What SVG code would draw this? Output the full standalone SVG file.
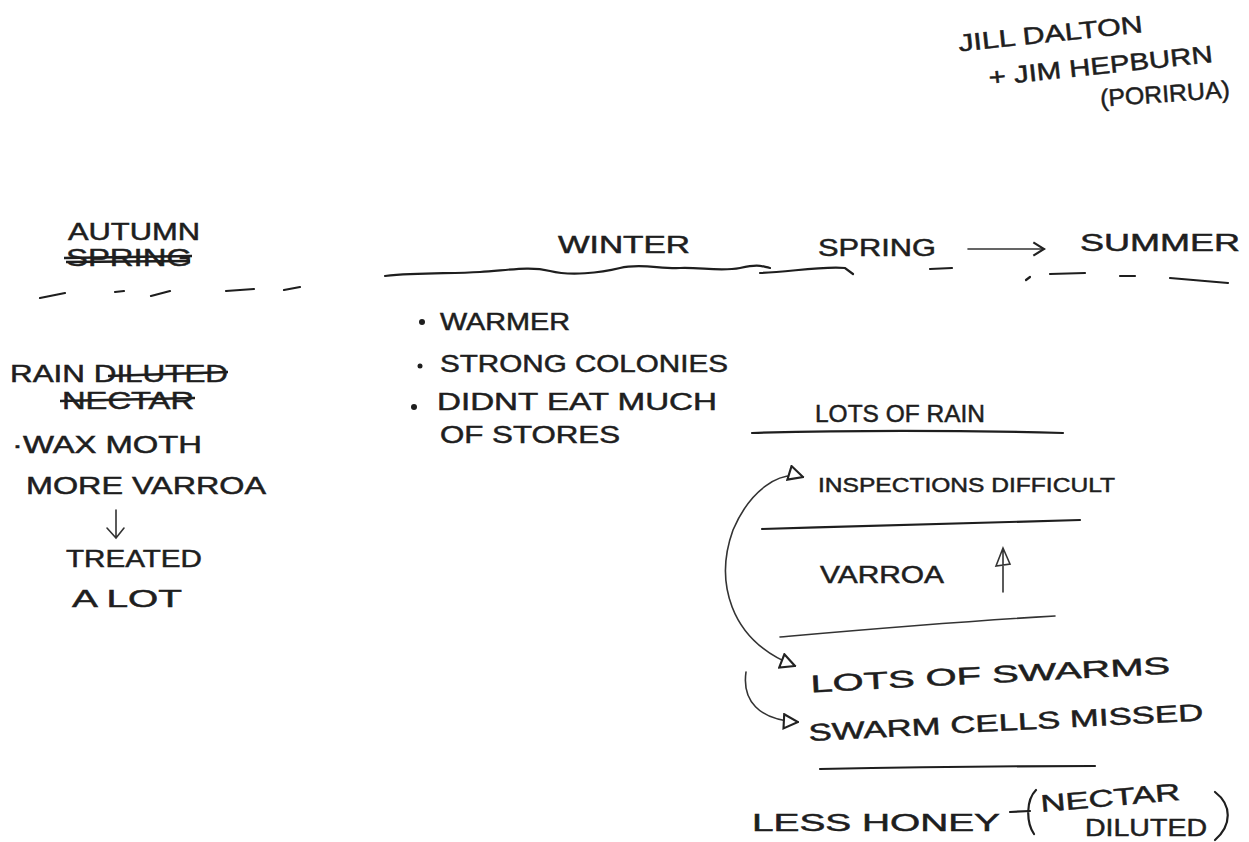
<svg xmlns="http://www.w3.org/2000/svg" width="1249" height="842" viewBox="0 0 1249 842">
<defs>
<style>
.t{font-family:"Liberation Sans","DejaVu Sans",sans-serif;font-size:24px;fill:#1e1e1e;stroke:#1e1e1e;stroke-width:0.5;}
.s{font-size:21px;}
.ln{stroke:#1e1e1e;stroke-width:2.2;fill:none;stroke-linecap:round;}
.thin{stroke:#333;stroke-width:1.6;fill:none;stroke-linecap:round;}
.strike{stroke:#1e1e1e;stroke-width:2.5;fill:none;}
</style>
<marker id="open" viewBox="0 0 12 12" refX="11" refY="6" markerWidth="17" markerHeight="17" markerUnits="userSpaceOnUse" orient="auto-start-reverse">
<path d="M1,1 L11,6 L1,11 Z" fill="#fff" stroke="#222" stroke-width="1.5"/>
</marker>
<marker id="chev" viewBox="0 0 12 12" refX="10" refY="6" markerWidth="16" markerHeight="16" markerUnits="userSpaceOnUse" orient="auto">
<path d="M2,1 L10,6 L2,11" fill="none" stroke="#222" stroke-width="1.6"/>
</marker>
</defs>
<rect width="1249" height="842" fill="#fff"/>

<g id="authors">
<text class="t" x="958" y="42" textLength="185" lengthAdjust="spacingAndGlyphs" transform="rotate(-6 1050 35)">JILL DALTON</text>
<text class="t" x="988" y="74" textLength="225" lengthAdjust="spacingAndGlyphs" transform="rotate(-6 1100 65)">+ JIM HEPBURN</text>
<text class="t" x="1100" y="102" textLength="130" lengthAdjust="spacingAndGlyphs" transform="rotate(-4 1165 95)">(PORIRUA)</text>
</g>

<g id="autumn">
<text class="t" x="68" y="240" textLength="132" lengthAdjust="spacingAndGlyphs">AUTUMN</text>
<text class="t" x="66" y="266" textLength="126" lengthAdjust="spacingAndGlyphs">SPRING</text>
<path class="strike" d="M64,258 L192,256 M66,262 L190,261"/>
<path class="ln" d="M40,298 L65,293 M115,292 L124,291 M151,296 L170,291 M226,291 L254,289 M284,290 L300,287"/>
</g>

<g id="autumn-notes">
<text class="t" x="10" y="382" textLength="218" lengthAdjust="spacingAndGlyphs">RAIN DILUTED</text>
<path class="strike" d="M108,376 L228,372"/>
<text class="t" x="62" y="409" textLength="132" lengthAdjust="spacingAndGlyphs">NECTAR</text>
<path class="strike" d="M60,401 L195,398"/>
<text class="t" x="12" y="453" textLength="190" lengthAdjust="spacingAndGlyphs">·WAX MOTH</text>
<text class="t" x="26" y="494" textLength="240" lengthAdjust="spacingAndGlyphs">MORE VARROA</text>
<path class="thin" d="M116,510 L116,537 M107,528 L116,538 L124,528"/>
<text class="t" x="66" y="567" textLength="136" lengthAdjust="spacingAndGlyphs">TREATED</text>
<text class="t" x="72" y="607" textLength="110" lengthAdjust="spacingAndGlyphs">A LOT</text>
</g>

<g id="winter">
<text class="t" x="558" y="253" textLength="132" lengthAdjust="spacingAndGlyphs">WINTER</text>
<path class="ln" d="M385,276 C420,272 450,274 480,272 S530,266 550,271 S600,273 620,268 S660,269 680,268 S720,272 740,268 S760,266 770,268"/>
<circle cx="422" cy="322" r="3" fill="#1e1e1e"/>
<text class="t" x="440" y="330" textLength="130" lengthAdjust="spacingAndGlyphs">WARMER</text>
<circle cx="420" cy="366" r="2.5" fill="#1e1e1e"/>
<text class="t" x="440" y="372" textLength="288" lengthAdjust="spacingAndGlyphs">STRONG COLONIES</text>
<circle cx="414" cy="407" r="3" fill="#1e1e1e"/>
<text class="t" x="437" y="410" textLength="280" lengthAdjust="spacingAndGlyphs">DIDNT EAT MUCH</text>
<text class="t" x="440" y="443" textLength="180" lengthAdjust="spacingAndGlyphs">OF STORES</text>
</g>

<g id="spring-summer">
<text class="t" x="818" y="256" textLength="118" lengthAdjust="spacingAndGlyphs">SPRING</text>
<path class="ln" d="M760,273 C790,272 820,266 845,268 L853,274 M930,269 L952,268"/>
<text class="t" x="1080" y="251" textLength="160" lengthAdjust="spacingAndGlyphs">SUMMER</text>
<path class="ln" d="M1026,280 L1030,277 M1050,274 L1085,273 M1120,276 L1135,276 M1170,278 L1228,283"/>
</g>

<g id="rain">
<text class="t" x="815" y="422" textLength="170" lengthAdjust="spacingAndGlyphs">LOTS OF RAIN</text>
<path class="ln" d="M752,433 C850,430 950,430 1063,433"/>
</g>

<g id="inspections">
<text class="t s" x="818" y="492" textLength="297" lengthAdjust="spacingAndGlyphs">INSPECTIONS DIFFICULT</text>
<path class="ln" d="M762,529 C870,526 980,522 1080,520"/>
</g>

<g id="varroa">
<text class="t" x="820" y="583" textLength="124" lengthAdjust="spacingAndGlyphs">VARROA</text>
<path class="thin" d="M1003,592 L1003,548 M996,566 L1003,548 L1010,564 Z"/>
<path class="thin" d="M780,637 C860,630 950,622 1055,616"/>
</g>

<g id="swarms">
<text class="t" x="810" y="683" textLength="360" lengthAdjust="spacingAndGlyphs" transform="rotate(-3 990 670)">LOTS OF SWARMS</text>
<text class="t" x="808" y="731" textLength="395" lengthAdjust="spacingAndGlyphs" transform="rotate(-3 1000 715)">SWARM CELLS MISSED</text>
<path class="ln" d="M820,769 C920,767 1010,766 1095,766"/>
</g>

<g id="honey">
<text class="t" x="752" y="831" textLength="248" lengthAdjust="spacingAndGlyphs">LESS HONEY</text>
<path class="ln" d="M1010,812 L1030,811 M1036,790 C1026,800 1026,822 1034,834"/>
<text class="t" x="1040" y="806" textLength="140" lengthAdjust="spacingAndGlyphs" transform="rotate(-5 1110 795)">NECTAR</text>
<text class="t" x="1085" y="836" textLength="122" lengthAdjust="spacingAndGlyphs">DILUTED</text>
<path class="ln" d="M1215,792 C1232,805 1232,825 1215,840"/>
</g>

<g id="connectors">
<path class="thin" d="M803,477 C780,470 750,490 733,530 C715,580 728,640 795,666" marker-start="url(#open)" marker-end="url(#open)"/>
<path class="thin" d="M746,672 C742,700 758,720 798,722" marker-end="url(#open)"/>
<path class="thin" d="M968,249 L1044,249" marker-end="url(#chev)"/>
</g>
</svg>
